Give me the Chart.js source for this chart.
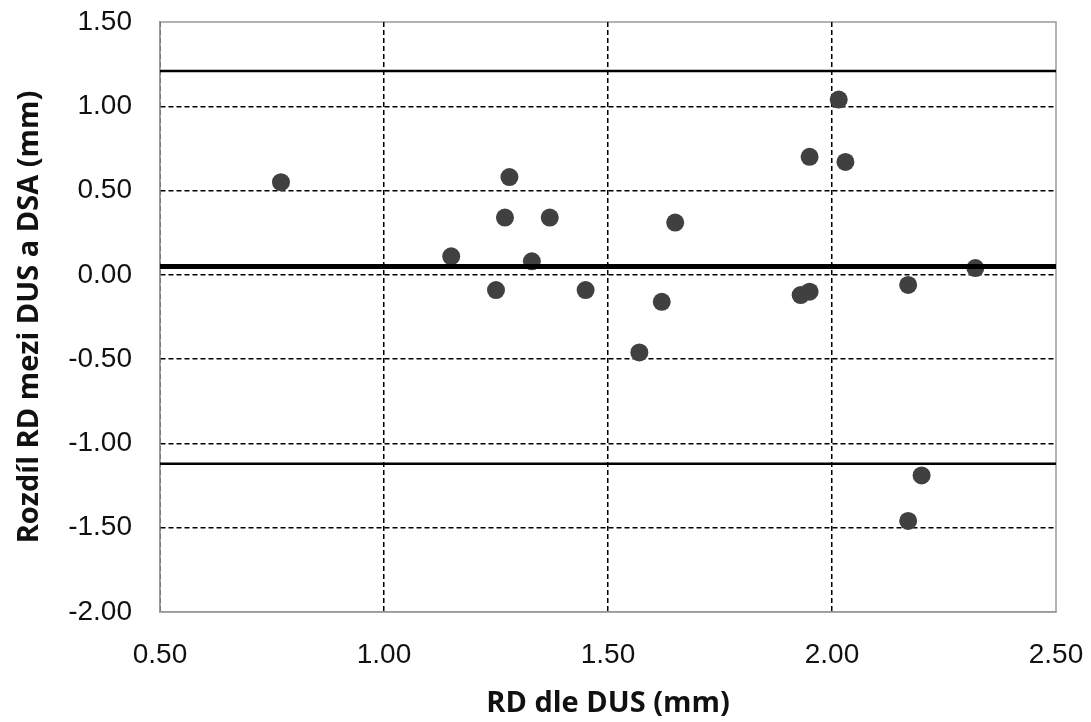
<!DOCTYPE html>
<html>
<head>
<meta charset="utf-8">
<title>Rozdíl RD mezi DUS a DSA</title>
<script src="https://cdn.jsdelivr.net/npm/chart.js@4.4.1/dist/chart.umd.min.js"></script>
<style>
  html, body { margin: 0; padding: 0; background: #fff; }
  #wrap { width: 1091px; height: 722px; }
</style>
</head>
<body>
<div id="wrap"><canvas id="baChart" width="1091" height="722"></canvas></div>
<script>
// Bland-Altman: RD dle DUS vs. rozdíl DUS - DSA
const rdDus = [0.77, 1.15, 1.25, 1.27, 1.28, 1.33, 1.37, 1.45, 1.57, 1.62,
               1.65, 1.93, 1.95, 1.95, 2.015, 2.03, 2.17, 2.17, 2.20, 2.32];
const rdDiff = [0.55, 0.11, -0.09, 0.34, 0.58, 0.08, 0.34, -0.09, -0.46, -0.16,
                0.31, -0.12, 0.70, -0.10, 1.04, 0.67, -0.06, -1.46, -1.19, 0.04];

// mean difference and limits of agreement
const lineX = [0.5, 2.5];
const meanDiff = 0.05;
const upperLimit = 1.21;
const lowerLimit = -1.12;

const xTicks = [0.5, 1.0, 1.5, 2.0, 2.5];
const yTicks = [1.5, 1.0, 0.5, 0.0, -0.5, -1.0, -1.5, -2.0];

const points = rdDus.map((x, i) => ({ x: x, y: rdDiff[i] }));
const hLine = v => lineX.map(x => ({ x: x, y: v }));

// grey frame around the plot area
const frame = {
  id: 'frame',
  beforeDraw(chart) {
    const { ctx, chartArea: a } = chart;
    ctx.save();
    ctx.fillStyle = '#fff';
    ctx.fillRect(0, 0, chart.width, chart.height);
    ctx.strokeStyle = '#9a9a9a';
    ctx.lineWidth = 1.5;
    ctx.strokeRect(a.left, a.top, a.right - a.left, a.bottom - a.top);
    ctx.restore();
  }
};

// fixed axis sizes, no extra room for overhanging tick labels
const fixSize = (prop, size) => s => {
  s[prop] = size;
  s.paddingTop = s.paddingBottom = s.paddingLeft = s.paddingRight = 0;
};

const tickFont = { family: '"Liberation Sans", Arial, sans-serif', size: 28 };
const titleFont = { family: '"Open Sans", sans-serif', size: 29, weight: 'bold' };

new Chart(document.getElementById('baChart'), {
  type: 'scatter',
  data: {
    datasets: [
      { type: 'line', data: hLine(upperLimit), borderColor: '#000', borderWidth: 2.5, pointRadius: 0, order: 0 },
      { type: 'line', data: hLine(meanDiff), borderColor: '#000', borderWidth: 5, pointRadius: 0, order: 0 },
      { type: 'line', data: hLine(lowerLimit), borderColor: '#000', borderWidth: 2.5, pointRadius: 0, order: 0 },
      { data: points, backgroundColor: '#404040', borderWidth: 0, pointRadius: 9, order: 1 }
    ]
  },
  plugins: [frame],
  options: {
    responsive: false,
    animation: false,
    layout: { padding: { top: 22, right: 35, bottom: 0, left: 0 } },
    plugins: { legend: { display: false }, tooltip: { enabled: false } },
    scales: {
      x: {
        min: 0.5, max: 2.5,
        afterFit: fixSize('height', 110),
        afterBuildTicks: s => { s.ticks = xTicks.map(v => ({ value: v })); },
        grid: {
          drawTicks: false,
          color: c => (c.tick && c.tick.value === 2.5) ? 'rgba(0,0,0,0)' : '#000',
          lineWidth: 1.5
        },
        border: { color: '#9a9a9a', width: 1.5, dash: [5, 3] },
        ticks: { font: tickFont, color: '#111', padding: 26, maxRotation: 0,
                 callback: v => Number(v).toFixed(2) },
        title: { display: true, text: 'RD dle DUS (mm)', font: titleFont, color: '#111',
                 padding: { top: 0, bottom: 1 } }
      },
      y: {
        min: -2.0, max: 1.5,
        afterFit: fixSize('width', 160),
        afterBuildTicks: s => { s.ticks = yTicks.map(v => ({ value: v })); },
        grid: {
          drawTicks: false,
          color: c => (c.tick && (c.tick.value === 1.5 || c.tick.value === -2.0)) ? 'rgba(0,0,0,0)' : '#000',
          lineWidth: 1.5
        },
        border: { color: '#9a9a9a', width: 1.5, dash: [5, 3] },
        ticks: { font: tickFont, color: '#111', padding: 28,
                 callback: v => Number(v).toFixed(2) },
        title: { display: true, text: 'Rozdíl RD mezi DUS a DSA (mm)', font: titleFont, color: '#111',
                 padding: { top: 12, bottom: 0 } }
      }
    }
  }
});
</script>
</body>
</html>
